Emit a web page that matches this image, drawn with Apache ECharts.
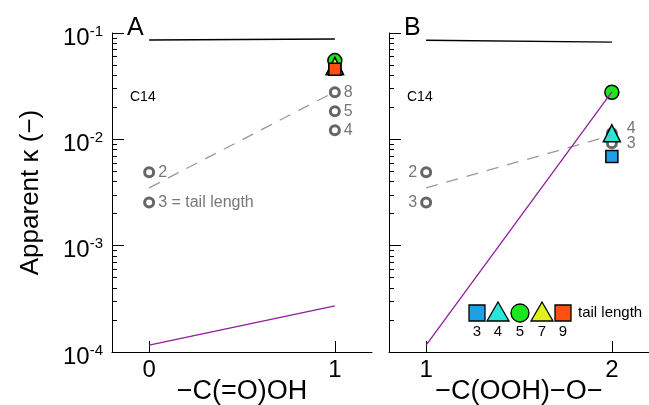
<!DOCTYPE html>
<html>
<head>
<meta charset="utf-8">
<script src="https://cdn.jsdelivr.net/npm/echarts@6/dist/echarts.min.js"></script>
<style>
  html, body { margin: 0; padding: 0; background: #fff; }
  #chart { width: 649px; height: 405px; }
</style>
</head>
<body>
<div id="chart"></div>
<script>
// panel A: -C(=O)OH count, panel B: -C(OOH)-O- count
const xA = [0, 1];
const xB = [1, 2];
const blackA = [0.0859, 0.0878];
const blackB = [0.0855, 0.082];
const dashA = [0.0035, 0.028];
const dashB = [0.0035, 0.0109];
const purpleA = [0.000116, 0.000272];
const purpleB = [0.000116, 0.028];

// gray rings (tail length labels)
const ringA_x = [0, 0, 1, 1, 1];
const ringA_y = [0.0049, 0.00255, 0.0277, 0.0184, 0.0122];
const ringA_lbl = ['2', '3 = tail length', '8', '5', '4'];
const ringB_x = [1, 1, 2, 2];
const ringB_y = [0.0049, 0.00255, 0.0114, 0.0092];
const ringB_lbl = ['2', '3', '4', '3'];

// coloured markers by tail length
const tails = [3, 4, 5, 7, 9];
const colA = [0.046, 0.049, 0.055, 0.049, 0.0455];
const colB = [0.0069, 0.0114, 0.0277, null, null];
const tailColor = ['#1ea0e6', '#26e8d8', '#1ee61e', '#e2f01e', '#ff5010'];
const tailSymbol = ['rect', 'triangle', 'circle', 'triangle', 'rect'];
const tailSize = [12, 17, 14, 17, 12];

const minorVals = [];
[1e-4, 1e-3, 1e-2].forEach(d => { for (let k = 2; k <= 9; k++) minorVals.push(+(d * k).toPrecision(3)); });

const FONT = 'Liberation Sans';
const chart = echarts.init(document.getElementById('chart'));

function mainY(gi, showLabels) {
  return {
    gridIndex: gi, type: 'log', logBase: 10, min: 1e-4, max: 0.1, position: 'left',
    name: showLabels ? 'Apparent κ (−)' : '', nameLocation: 'middle', nameGap: 68, nameRotate: 90,
    nameTextStyle: { fontSize: 26, color: '#000', fontFamily: FONT },
    axisLine: { show: true, onZero: false, lineStyle: { color: '#000', width: 1 } },
    axisTick: { show: true, inside: true, length: 12, lineStyle: { color: '#000' } },
    splitLine: { show: false },
    axisLabel: {
      show: showLabels, margin: 9, padding: [10, 0, 0, 0],
      formatter: v => '{b|10}{s|' + Math.round(Math.log10(v)) + '}',
      rich: {
        b: { fontSize: 24, color: '#000', fontFamily: FONT },
        s: { fontSize: 15, color: '#000', fontFamily: FONT, padding: [0, 0, 13, 0] }
      }
    }
  };
}
function minorY(gi) {
  return {
    gridIndex: gi, type: 'log', logBase: 10, min: 1e-4, max: 0.1, position: 'left',
    axisLine: { show: false, onZero: false }, axisLabel: { show: false }, splitLine: { show: false },
    axisTick: { show: true, inside: true, length: 5, customValues: minorVals, lineStyle: { color: '#000' } }
  };
}
function xAx(gi, min, max, name) {
  return {
    gridIndex: gi, type: 'value', min: min, max: max, interval: 1,
    name: name, nameLocation: 'middle', nameGap: 26, nameMoveOverlap: false,
    nameTextStyle: { fontSize: 27, color: '#000', fontFamily: FONT },
    axisLine: { show: true, onZero: false, lineStyle: { color: '#000' } },
    axisTick: { show: true, inside: true, length: 11, customValues: gi === 0 ? xA : xB, lineStyle: { color: '#000' } },
    axisLabel: { fontSize: 24, color: '#000', fontFamily: FONT, margin: 6, customValues: gi === 0 ? xA : xB },
    splitLine: { show: false }
  };
}
function line(gi, xs, ys, color, type) {
  return {
    type: 'line', xAxisIndex: gi, yAxisIndex: gi * 2, symbol: 'none', silent: true,
    lineStyle: { color: color, width: 1.3, type: type === 'dashed' ? [12, 9] : 'solid' },
    data: xs.map((x, i) => [x, ys[i]])
  };
}
function rings(gi, xs, ys, lbls, leftAt, farAt) {
  return {
    type: 'scatter', xAxisIndex: gi, yAxisIndex: gi * 2, symbol: 'circle', symbolSize: 9,
    itemStyle: { color: '#fff', borderColor: '#666', borderWidth: 3, opacity: 1 },
    label: { show: true, fontSize: 16, color: '#777', fontFamily: FONT, distance: 3 },
    data: xs.map((x, i) => ({
      value: [x, ys[i]],
      label: {
        formatter: lbls[i], position: x === leftAt ? 'left' : 'right',
        distance: x === farAt ? 9 : 3, offset: x === farAt && i === 2 ? [0, -5] : [0, 0]
      }
    }))
  };
}
function colored(gi, xpos, vals) {
  return tails.map((t, i) => ({
    type: 'scatter', xAxisIndex: gi, yAxisIndex: gi * 2, name: String(t),
    symbol: tailSymbol[i], symbolSize: tailSize[i],
    itemStyle: { color: tailColor[i], borderColor: '#000', borderWidth: 1.5, opacity: 1 },
    data: vals[i] == null ? [] : [[xpos, vals[i]]]
  }));
}

// legend swatches for panel B
const legX = [477, 498, 520, 542, 563];
const legY = 313;
const legend = [];
tails.forEach((t, i) => {
  const st = { fill: tailColor[i], stroke: '#000', lineWidth: 1.3 };
  if (tailSymbol[i] === 'rect') legend.push({ type: 'rect', shape: { x: legX[i] - 8, y: legY - 8, width: 16, height: 16 }, style: st });
  else if (tailSymbol[i] === 'circle') legend.push({ type: 'circle', shape: { cx: legX[i], cy: legY, r: 9 }, style: st });
  else legend.push({ type: 'polygon', shape: { points: [[legX[i], legY - 11], [legX[i] + 11, legY + 8], [legX[i] - 11, legY + 8]] }, style: st });
  legend.push({ type: 'text', x: legX[i], y: legY + 19, style: { text: String(t), fontSize: 15, fill: '#000', fontFamily: FONT, align: 'center', verticalAlign: 'middle' } });
});
legend.push({ type: 'text', x: 578, y: legY, style: { text: 'tail length', fontSize: 15, fill: '#000', fontFamily: FONT, verticalAlign: 'middle' } });

const option = {
  animation: false,
  textStyle: { fontFamily: FONT },
  grid: [
    { left: 112, width: 260, top: 33, bottom: 53, outerBoundsMode: 'none' },
    { left: 389, width: 260, top: 33, bottom: 53, outerBoundsMode: 'none' }
  ],
  xAxis: [xAx(0, -0.2, 1.2, '−C(=O)OH'), xAx(1, 0.8, 2.2, '−C(OOH)−O−')],
  yAxis: [mainY(0, true), minorY(0), mainY(1, false), minorY(1)],
  graphic: [
    { type: 'text', x: 127, y: 16, style: { text: 'A', fontSize: 25, fill: '#000', fontFamily: FONT } },
    { type: 'text', x: 404, y: 16, style: { text: 'B', fontSize: 25, fill: '#000', fontFamily: FONT } },
    { type: 'text', x: 130, y: 90, style: { text: 'C14', fontSize: 14, fill: '#000', fontFamily: FONT } },
    { type: 'text', x: 407, y: 90, style: { text: 'C14', fontSize: 14, fill: '#000', fontFamily: FONT } }
  ].concat(legend),
  series: [
    line(0, xA, blackA, '#000', 'solid'),
    line(0, xA, dashA, '#999', 'dashed'),
    line(0, xA, purpleA, '#8e1f9a', 'solid'),
    rings(0, ringA_x, ringA_y, ringA_lbl, -1, -1),
    line(1, xB, blackB, '#000', 'solid'),
    line(1, xB, dashB, '#999', 'dashed'),
    rings(1, ringB_x, ringB_y, ringB_lbl, 1, 2),
    line(1, xB, purpleB, '#8e1f9a', 'solid')
  ].concat(colored(0, 1, colA)).concat(colored(1, 2, colB))
};
chart.setOption(option);
</script>
</body>
</html>
